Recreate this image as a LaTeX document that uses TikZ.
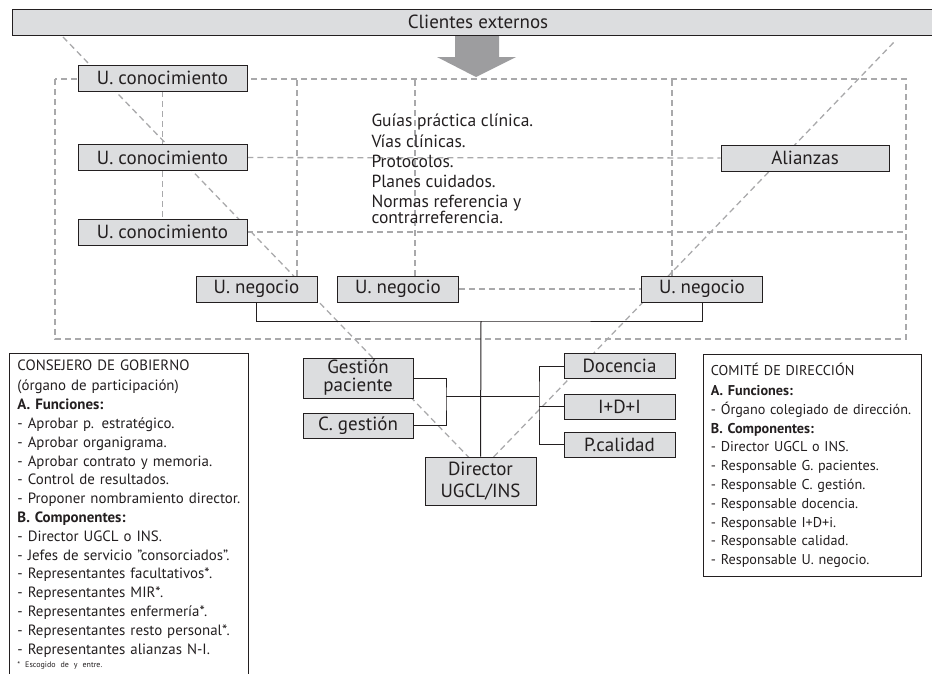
\documentclass[tikz,border=0pt]{standalone}
\usepackage{fontspec}
\setmainfont{PT Sans}
\usepackage{tikz}
\usetikzlibrary{backgrounds}
\definecolor{boxgray}{HTML}{DCDDDF}
\definecolor{dashgray}{HTML}{A9A9AB}
\definecolor{arrowgray}{HTML}{9D9D9F}
\definecolor{ink}{HTML}{231F20}
\tikzstyle{unit} = [rectangle, draw=ink, fill=boxgray, line width=0.9pt, inner sep=0pt,
    text=ink, align=center, font=\fontsize{19}{17}\selectfont]
\tikzstyle{info} = [rectangle, draw=ink, fill=white, line width=0.9pt, anchor=north west,
    align=left, inner xsep=8pt, inner ysep=6pt, text=ink, font=\fontsize{14.3}{18.8}\selectfont]
\tikzstyle{link} = [draw=ink, line width=1pt]
\tikzstyle{dline} = [draw=dashgray, line width=1.3pt, dash pattern=on 6pt off 4pt]

\begin{document}
\begin{tikzpicture}[x=1pt, y=-1pt]
    \useasboundingbox (0,0) rectangle (932,673);
    \clip (0,0) rectangle (932,673);
    % Place nodes
    \node [unit, minimum width=932pt, minimum height=26pt] (clients) at (478,22) {Clientes externos};
    \node [unit, minimum width=169pt, minimum height=26pt] (know1) at (162.5,78) {U. conocimiento};
    \node [unit, minimum width=169pt, minimum height=26pt] (know2) at (162.5,157.5) {U. conocimiento};
    \node [unit, minimum width=169pt, minimum height=26pt] (know3) at (162.5,232) {U. conocimiento};
    \node [unit, minimum width=168pt, minimum height=26pt] (alliances) at (805,158) {Alianzas};
    \node [unit, minimum width=121pt, minimum height=26pt] (business1) at (256.5,289) {U. negocio};
    \node [unit, minimum width=121pt, minimum height=26pt] (business2) at (398,289) {U. negocio};
    \node [unit, minimum width=121pt, minimum height=26pt] (business3) at (702,289) {U. negocio};
    \node [unit, minimum width=110pt, minimum height=40pt, font=\fontsize{19}{18}\selectfont] (patient) at (358,378) {Gestión\\paciente};
    \node [unit, minimum width=110pt, minimum height=25pt] (control) at (358,425.5) {C. gestión};
    \node [unit, minimum width=111pt, minimum height=25pt] (teaching) at (619.5,366) {Docencia};
    \node [unit, minimum width=111pt, minimum height=25pt] (research) at (619.5,406.5) {I+D+I};
    \node [unit, minimum width=111pt, minimum height=25pt] (quality) at (619.5,444.5) {P.calidad};
    \node [unit, minimum width=111pt, minimum height=48pt, font=\fontsize{19}{22}\selectfont] (director) at (480.5,481) {Director\\UGCL/INS};
    \node [anchor=north west, align=left, text=ink, font=\fontsize{17.5}{16}\selectfont] (guides) at (368,110.5)
        {Guías práctica clínica.\\[4pt] Vías clínicas.\\[4pt] Protocolos.\\[4pt] Planes cuidados.\\[4pt]
         Normas referencia y\\contrarreferencia.};
    \node [info, text width=223pt, inner xsep=8pt, inner ysep=6pt, text depth=320pt,
        font=\fontsize{14.9}{18.8}\selectfont] (council) at (9,353)
        {CONSEJERO DE GOBIERNO\\[2pt]
         (órgano de participación)\\
         \textbf{A. Funciones:}\\
         - Aprobar p. estratégico.\\
         - Aprobar organigrama.\\
         - Aprobar contrato y memoria.\\
         - Control de resultados.\\
         - Proponer nombramiento director.\\
         \textbf{B. Componentes:}\\
         - Director UGCL o INS.\\
         - Jefes de servicio "consorciados".\\
         - Representantes facultativos*.\\
         - Representantes MIR*.\\
         - Representantes enfermería*.\\
         - Representantes resto personal*.\\
         - Representantes alianzas N-I.\\[-5pt]
         {\fontsize{8}{10}\selectfont * Escogido de y entre.}};
    \node [info, text width=203pt, inner xsep=7.5pt, minimum height=222pt,
        font=\fontsize{14.2}{18.8}\selectfont] (committee) at (703,354)
        {COMITÉ DE DIRECCIÓN\\[1pt]
         \textbf{A. Funciones:}\\
         - Órgano colegiado de dirección.\\
         \textbf{B. Componentes:}\\
         - Director UGCL o INS.\\
         - Responsable G. pacientes.\\
         - Responsable C. gestión.\\
         - Responsable docencia.\\
         - Responsable I+D+i.\\
         - Responsable calidad.\\
         - Responsable U. negocio.};
    \coordinate (hub) at (481,321);
    \coordinate (ljoin) at (446,396);
    \coordinate (rjoin) at (539,396);
    \coordinate (meet) at (481,470);
    \coordinate (diagl) at (63,37);
    \coordinate (diagr) at (896,40);
    % Draw edges
    \begin{scope}[on background layer]
        \path [dline] (55,79) rectangle (906,339);
        \path [dline] (know1) -- (know3);
        \path [dline] (know2) -- (alliances);
        \path [dline] (know3) -- (906,232);
        \path [dline] ([xshift=40.5pt]business1.north) -- ++(0,-197);
        \path [dline] ([xshift=17pt]business2.north) -- ++(0,-197);
        \path [dline] ([xshift=-30pt]business3.north) -- ++(0,-197);
        \path [dline] (business2) -- (business3);
        \path [dline] (diagl) -- (meet) -- (diagr);
        \path [link] (business1.south) |- (hub) -| (business3.south);
        \path [link] (hub) -- (director.north);
        \path [link] (patient.east) -| (ljoin) |- (control.east);
        \path [link] (ljoin) -- (rjoin);
        \path [link] (teaching.west) -| (rjoin) |- (quality.west);
        \path [link] (research.west) -- (research.west -| rjoin);
    \end{scope}
    % Arrow from clients
    \fill [arrowgray] (455,36) -- (499,36) -- (499,57) -- (516,57) -- (476,77) -- (437,57) -- (455,57) -- cycle;
\end{tikzpicture}
\end{document}
